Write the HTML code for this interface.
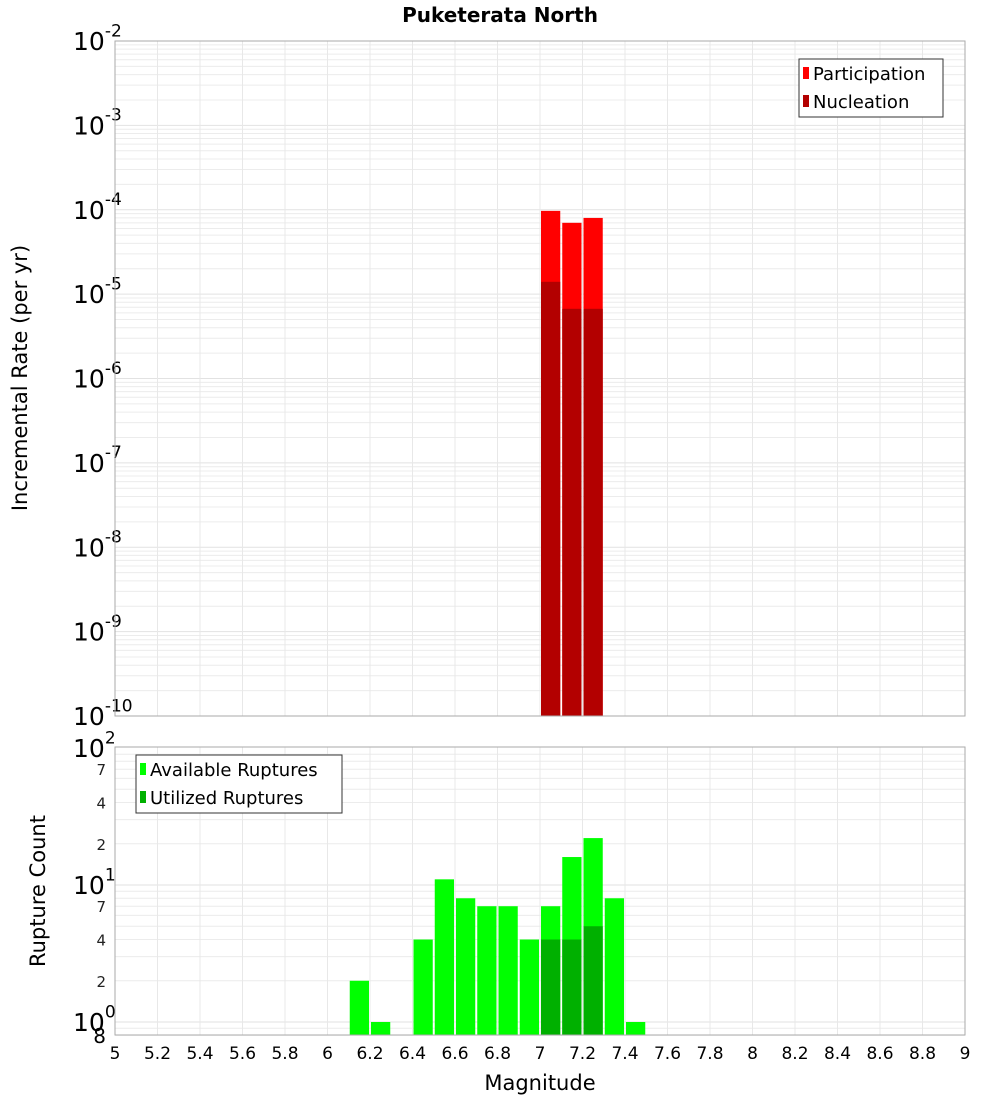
<!DOCTYPE html>
<html><head><meta charset="utf-8"><style>body{margin:0;background:#fff}svg text{font-family:"DejaVu Sans","Liberation Sans",sans-serif}</style></head>
<body>
<svg id="chart" width="1000" height="1100" xmlns="http://www.w3.org/2000/svg">
<text x="500" y="22" text-anchor="middle" font-size="20" font-weight="bold">Puketerata North</text>
<g id="topg"></g><g id="botg"></g>
<text x="540" y="1090" text-anchor="middle" font-size="21">Magnitude</text>
<text transform="translate(27,378) rotate(-90)" text-anchor="middle" font-size="21">Incremental Rate (per yr)</text>
<text transform="translate(45,891) rotate(-90)" text-anchor="middle" font-size="21">Rupture Count</text>
</svg>
<script>
const bins=[6.1,6.2,6.3,6.4,6.5,6.6,6.7,6.8,6.9,7.0,7.1,7.2,7.3,7.4];
const available=[2,1,0,4,11,8,7,7,4,7,16,22,8,1];
const utilized=[0,0,0,0,0,0,0,0,0,4,4,5,0,0];
const rateBins=[7.0,7.1,7.2];
const participation=[9.7e-5,7.0e-5,8.0e-5];
const nucleation=[1.4e-5,6.7e-6,6.7e-6];
const xTicks=[5,5.2,5.4,5.6,5.8,6,6.2,6.4,6.6,6.8,7,7.2,7.4,7.6,7.8,8,8.2,8.4,8.6,8.8,9];
const topExps=[-2,-3,-4,-5,-6,-7,-8,-9,-10];
const botExps=[2,1,0];
const NS='http://www.w3.org/2000/svg';
const X0=115,X1=965;
const x=m=>X0+(m-5)/4*(X1-X0);
const yT=v=>41+(-2-Math.log10(v))*84.375;
const yB=v=>885-(Math.log10(v)-1)*137;
function mk(p,t,a){const e=document.createElementNS(NS,t);for(const k in a)e.setAttribute(k,a[k]);p.appendChild(e);return e;}
const gTop=document.getElementById('topg'),gBot=document.getElementById('botg');
function grid(g,yt,yb,ylo,lo,hi){
 for(let d=lo;d<hi;d++)for(let k=1;k<10;k++){const v=k*Math.pow(10,d);const yy=ylo(v);if(yy<yt-0.5||yy>yb+0.5)continue;
  const l=mk(g,'line',{x1:X0,x2:X1,y1:yy,y2:yy,stroke:k==1?'#e2e2e2':'#ececec','stroke-width':1});
  
  }
 xTicks.forEach(t=>{const l=mk(g,'line',{x1:x(t),x2:x(t),y1:yt,y2:yb,stroke:'#e8e8e8'});
  
  });
}
grid(gTop,41,716,yT,-10,-2);
grid(gBot,747,1035,yB,-1,2);
function label(g,xx,yy,exp,fs,name){const t=mk(g,'text',{x:xx,y:yy,'font-size':fs});t.textContent='10';
 const s=mk(t,'tspan',{dy:-fs*0.55,'font-size':fs*0.68});s.textContent=String(exp);
 
 }
topExps.forEach(e=>label(gTop,73,yT(Math.pow(10,e))+9,e,25,'top-y-tick-label'));
botExps.forEach(e=>label(gBot,73,yB(Math.pow(10,e))+9,e,25,'bottom-y-tick-label'));
[70,40,20,7,4,2].forEach(v=>{const t=mk(gBot,'text',{x:106,y:yB(v)+6,'font-size':15,'text-anchor':'end',fill:'#222'});t.textContent=String(v).charAt(0);
 
 });
{const t=mk(gBot,'text',{x:106,y:1043,'font-size':20,'text-anchor':'end'});t.textContent='8';
 
 }
xTicks.forEach(t=>{const e=mk(gBot,'text',{x:x(t),y:1059,'font-size':17,'text-anchor':'middle'});e.textContent=String(t);
 
 });
function bar(g,m,v,base,yf,col,name){if(v<=0)return;const x1=x(m)+1,x2=x(m+0.1)-1,yy=yf(v);
 const r=mk(g,'rect',{x:x1,y:yy,width:x2-x1,height:base-yy,fill:col});
 
 }
rateBins.forEach((m,i)=>bar(gTop,m,participation[i],716,yT,'#ff0000','participation-bar'));
rateBins.forEach((m,i)=>bar(gTop,m,nucleation[i],716,yT,'#b30000','nucleation-bar'));
bins.forEach((m,i)=>bar(gBot,m,available[i],1035,yB,'#00ff00','available-bar'));
bins.forEach((m,i)=>bar(gBot,m,utilized[i],1035,yB,'#00b000','utilized-bar'));
{const r=mk(gTop,'rect',{x:X0,y:41,width:X1-X0,height:675,fill:'none',stroke:'#aaa'});
 
 }
{const r=mk(gBot,'rect',{x:X0,y:747,width:X1-X0,height:288,fill:'none',stroke:'#aaa'});
 
 }
function legend(g,bx,by,w,items,name){const b=mk(g,'rect',{x:bx,y:by,width:w,height:58,fill:'#fff',stroke:'#333'});
 
 
 items.forEach((it,i)=>{const yy=by+14+i*28;const s=mk(g,'rect',{x:bx+4,y:yy-6,width:6,height:12,fill:it[1]});
  
  
  const t=mk(g,'text',{x:bx+14,y:yy+7,'font-size':18});t.textContent=it[0];
  
  });}
legend(gTop,799,59,144,[['Participation','#ff0000'],['Nucleation','#b30000']],'top-legend');
legend(gBot,136,755,206,[['Available Ruptures','#00ff00'],['Utilized Ruptures','#00b000']],'bottom-legend');
</script>
</body></html>
